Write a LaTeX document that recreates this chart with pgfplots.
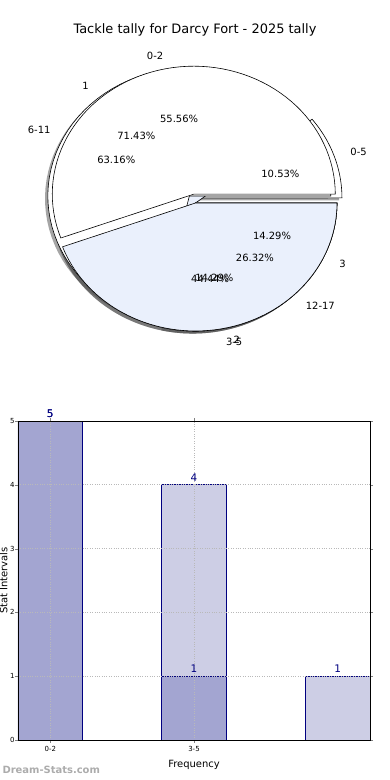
\documentclass[border=0pt]{standalone}
\usepackage{pgfplots}
\pgfplotsset{compat=1.18}
\usepackage{fontspec}
\setmainfont{DejaVu Sans}
\definecolor{pieblue}{RGB}{234,240,252}
\definecolor{bardark}{RGB}{163,165,209}
\definecolor{barlight}{RGB}{205,206,229}
\definecolor{barnavy}{RGB}{0,0,128}
% #1 start angle, #2 end angle, #3 dx, #4 dy, #5 fill
\newcommand{\pieslice}[5]{%
  \addplot[draw=black, line width=0.6pt, fill=#5, domain=#1:#2, samples=70]
    ({#3+cos(x)},{#4+sin(x)}) -- (axis cs:#3,#4) -- cycle;}
\newcommand{\pieshadow}[4]{%
  \addplot[draw=none, fill=black!70, fill opacity=0.5, domain=#1:#2, samples=70]
    ({#3-0.02+cos(x)},{#4-0.02+sin(x)}) -- (axis cs:#3-0.02,#4-0.02) -- cycle;}
\begin{document}
\begin{tikzpicture}
\useasboundingbox (0,0) rectangle (390bp,780bp);
\node[font=\fontsize{13}{15}\selectfont] at (195bp,750bp) {Tackle tally for Darcy Fort - 2025 tally};
% ---------------- pies ----------------
\begin{axis}[at={(195.5bp,577bp)}, anchor=center, x=141.5bp, y=128bp,
  xmin=-1.3, xmax=1.3, ymin=-1.3, ymax=1.3, hide axis, clip=false,
  every node/.style={font=\fontsize{11}{13}\selectfont}]
% shadows (drawn beneath everything)
\pieshadow{0}{3.6*10.53}{0.035}{0.04}
\pieshadow{3.6*10.53}{3.6*(10.53+63.16)}{0}{0}
\pieshadow{3.6*(10.53+63.16)}{360}{0}{0}
\pieshadow{0}{3.6*71.43}{-0.0436}{0.0547}
\pieshadow{3.6*71.43}{3.6*(71.43+14.29)}{0}{0}
\pieshadow{3.6*(71.43+14.29)}{360}{0}{0}
\pieshadow{0}{3.6*55.56}{-0.0122}{0.0689}
\pieshadow{3.6*55.56}{360}{0}{0}
% pie 3: 0-5, 6-11, 12-17
\pieslice{0}{3.6*10.53}{0.035}{0.04}{white}
\pieslice{3.6*10.53}{3.6*(10.53+63.16)}{0}{0}{pieblue}
\pieslice{3.6*(10.53+63.16)}{360}{0}{0}{white}
% pie 2: 1, 2, 3
\pieslice{0}{3.6*71.43}{-0.0436}{0.0547}{white}
\pieslice{3.6*71.43}{3.6*(71.43+14.29)}{0}{0}{pieblue}
\pieslice{3.6*(71.43+14.29)}{360}{0}{0}{white}
% pie 1: 0-2, 3-5
\pieslice{0}{3.6*55.56}{-0.0122}{0.0689}{white}
\pieslice{3.6*55.56}{360}{0}{0}{pieblue}
% labels
\node[anchor=east] at (axis cs:-0.203,1.152) {0-2};
\node[anchor=west] at (axis cs:0.191,-1.083) {3-5};
\node[anchor=east] at (axis cs:-0.730,0.915) {1};
\node[anchor=west] at (axis cs:0.245,-1.072) {2};
\node[anchor=west] at (axis cs:0.991,-0.477) {3};
\node[anchor=west] at (axis cs:1.07,0.40) {0-5};
\node[anchor=east] at (axis cs:-1.0,0.57) {6-11};
\node[anchor=west] at (axis cs:0.755,-0.80) {12-17};
% percentages
\node at (axis cs:-0.116,0.660) {55.56\%};
\node at (axis cs:0.104,-0.591) {44.44\%};
\node at (axis cs:-0.418,0.524) {71.43\%};
\node at (axis cs:0.1335,-0.585) {14.29\%};
\node at (axis cs:0.541,-0.260) {14.29\%};
\node at (axis cs:0.60,0.23) {10.53\%};
\node at (axis cs:-0.56,0.34) {63.16\%};
\node at (axis cs:0.42,-0.43) {26.32\%};
\end{axis}
% ---------------- bars ----------------
\begin{axis}[at={(18bp,40bp)}, anchor=south west, scale only axis,
  width=352bp, height=319bp,
  xmin=-0.225, xmax=2.225, ymin=0, ymax=5,
  xtick={0,1}, xticklabels={0-2,3-5}, ytick={0,1,2,3,4,5},
  tick label style={font=\fontsize{7}{8}\selectfont},
  yticklabel style={xshift=3bp},
  /pgf/number format/assume math mode=true,
  grid=major, grid style={dotted, gray!55, line width=0.9pt},
  axis on top, tick align=outside, major tick length=3bp,
  axis line style={line width=0.8pt},
  ybar, bar width=0.45, bar shift=0pt,
  nodes near coords,
  nodes near coords style={font=\fontsize{10.5}{12}\selectfont, text=barnavy},
  xlabel={Frequency}, ylabel={Stat Intervals},
  label style={font=\fontsize{10}{12}\selectfont},
  xlabel style={at={(axis description cs:0.5,-0.078)}, anchor=center},
  ylabel style={at={(axis description cs:-0.041,0.5)}, anchor=center},
  clip=false]
\addplot[fill=barlight, draw=barnavy, line width=0.8pt] coordinates {(0,5) (1,4) (2,1)};
\addplot[fill=bardark, draw=barnavy, line width=0.8pt] coordinates {(0,5) (1,1)};
\end{axis}
\node[anchor=west, font=\bfseries\fontsize{10}{12}\selectfont, text=gray!65] at (-1bp,10bp) {Dream-Stats.com};
\end{tikzpicture}
\end{document}
